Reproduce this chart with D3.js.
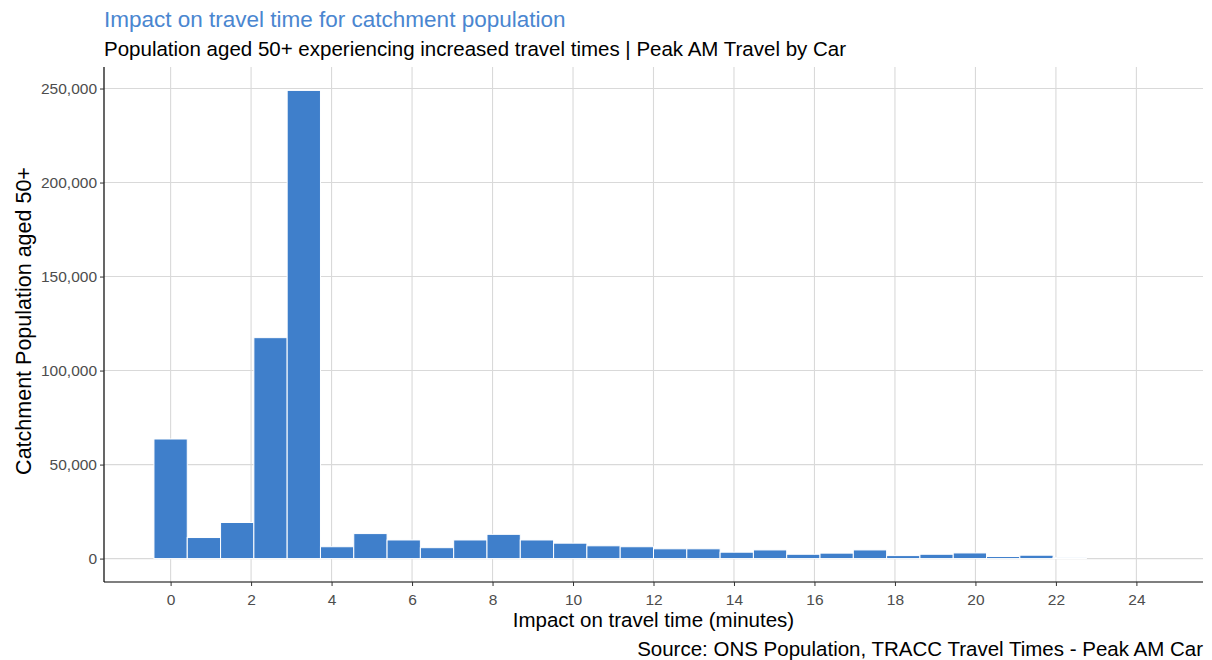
<!DOCTYPE html>
<html><head><meta charset="utf-8">
<script src="https://cdn.jsdelivr.net/npm/d3@7"></script>
<style>body{margin:0;background:#fff}svg{display:block;font-family:"Liberation Sans",Arial,sans-serif}</style>
</head><body><svg id="c" width="1212" height="660"></svg>
<script>
// bin centres (minutes) and population per bin
const binCentres = d3.range(30).map(k => k * 24 / 29);
const population = [63600, 11200, 19200, 117500, 249000, 6300, 13300, 9900, 5800, 9900,
                    12900, 9900, 8200, 6800, 6300, 5200, 5200, 3400, 4600, 2300,
                    2900, 4600, 1600, 2300, 3000, 1100, 1800, 500, 0, 0];
const xTicks = [0, 2, 4, 6, 8, 10, 12, 14, 16, 18, 20, 22, 24];
const yTicks = [0, 50000, 100000, 150000, 200000, 250000];
const titleText = "Impact on travel time for catchment population";
const subtitleText = "Population aged 50+ experiencing increased travel times | Peak AM Travel by Car";
const xTitle = "Impact on travel time (minutes)";
const yTitle = "Catchment Population aged 50+";
const caption = "Source: ONS Population, TRACC Travel Times - Peak AM Car";

const binW = 24 / 29;
const svg = d3.select("#c");
const L = 104, R = 1203, T = 67, B = 582;
const lo = -binW / 2, hi = 24 + binW / 2, pad = (hi - lo) * 0.05;
const x = d3.scaleLinear().domain([lo - pad, hi + pad]).range([L, R]);
const maxY = d3.max(population);
const y = d3.scaleLinear().domain([-0.05 * maxY, 1.05 * maxY]).range([B, T]);

const grid = svg.append("g");
grid.selectAll("line.gx").data(xTicks).join("line")
  .attr("x1", d => x(d)).attr("x2", d => x(d)).attr("y1", T).attr("y2", B)
  .attr("stroke", "#d9d9d9").attr("stroke-width", 1.1);
grid.selectAll("line.gy").data(yTicks).join("line")
  .attr("x1", L).attr("x2", R).attr("y1", d => y(d)).attr("y2", d => y(d))
  .attr("stroke", "#d9d9d9").attr("stroke-width", 1.1);

svg.append("g").selectAll("rect").data(binCentres).join("rect")
  .attr("x", (d) => x(d - binW / 2))
  .attr("width", x(binW) - x(0))
  .attr("y", (d, i) => y(population[i]))
  .attr("height", (d, i) => y(0) - y(population[i]))
  .attr("fill", "#3f7fcb").attr("stroke", "#ffffff").attr("stroke-width", 1);

const fmt = d3.format(",");
const ax = svg.append("g").attr("transform", `translate(0,${B})`)
  .call(d3.axisBottom(x).tickValues(xTicks).tickSize(4).tickPadding(8).tickSizeOuter(0));
const ay = svg.append("g").attr("transform", `translate(${L},0)`)
  .call(d3.axisLeft(y).tickValues(yTicks).tickFormat(fmt).tickSize(4).tickPadding(3).tickSizeOuter(0));
[ax, ay].forEach(a => {
  a.select(".domain").attr("stroke", "#000").attr("stroke-width", 1.2);
  a.selectAll(".tick line").attr("stroke", "#333");
  a.selectAll(".tick text").attr("fill", "#4d4d4d").style("font-size", "15.5px")
   .style("font-family", "'Liberation Sans',Arial,sans-serif");
});
ay.select(".domain").attr("d", `M0,${T}V${B}`);
ax.select(".domain").attr("d", `M${L},0H${R}`);

svg.append("text").attr("x", L).attr("y", 27).text(titleText)
  .attr("fill", "#4a86d0").style("font-size", "22.5px");
svg.append("text").attr("x", L).attr("y", 56).text(subtitleText)
  .attr("fill", "#000").style("font-size", "20.5px");
svg.append("text").attr("x", (L + R) / 2).attr("y", 627).attr("text-anchor", "middle")
  .text(xTitle).style("font-size", "20.5px");
svg.append("text").attr("transform", `translate(31,321) rotate(-90)`)
  .attr("text-anchor", "middle").text(yTitle).style("font-size", "21.5px");
svg.append("text").attr("x", R).attr("y", 656).attr("text-anchor", "end")
  .text(caption).style("font-size", "20.5px");
</script></body></html>
